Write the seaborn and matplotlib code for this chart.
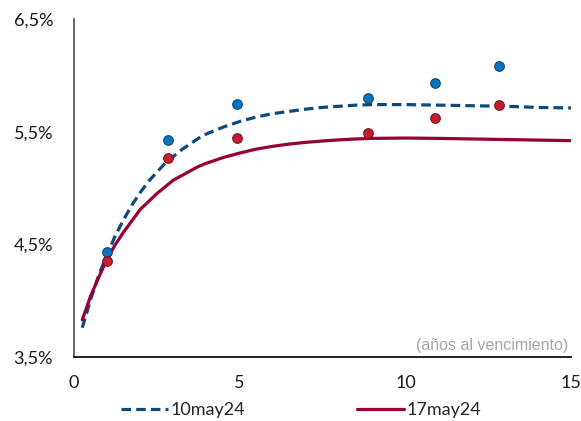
import numpy as np
import pandas as pd
import matplotlib
matplotlib.use("Agg")
import matplotlib.pyplot as plt
import seaborn as sns
from matplotlib.ticker import FuncFormatter

# fitted curves (years to maturity -> yield %)
curve_x = [0.25, 0.5, 0.75, 1.0, 1.25, 1.5, 1.75, 2.0, 2.25, 2.5, 2.75, 3.0, 3.25, 3.5,
           3.75, 4.0, 4.5, 5.0, 5.5, 6.0, 6.5, 7.0, 7.5, 8.0, 8.5, 9.0, 10.0, 11.0, 12.0,
           13.0, 14.0, 15.0]
curve_10may = [3.76, 4.01, 4.23, 4.41, 4.58, 4.72, 4.85, 4.96, 5.06, 5.14, 5.22, 5.28, 5.34, 5.39,
               5.44, 5.48, 5.54, 5.59, 5.63, 5.66, 5.68, 5.70, 5.715, 5.725, 5.735, 5.74, 5.74, 5.735,
               5.73, 5.725, 5.715, 5.71]
curve_17may = [3.83, 4.04, 4.21, 4.37, 4.50, 4.61, 4.71, 4.81, 4.88, 4.95, 5.01, 5.07, 5.11, 5.15,
               5.19, 5.22, 5.27, 5.31, 5.345, 5.37, 5.39, 5.405, 5.417, 5.427, 5.435, 5.44, 5.443, 5.44,
               5.435, 5.43, 5.425, 5.42]

# observed bond yields
obs_x = [1.0, 2.83, 4.91, 8.88, 10.88, 12.81]
obs_10may = [4.43, 5.43, 5.745, 5.80, 5.93, 6.08]
obs_17may = [4.35, 5.27, 5.44, 5.49, 5.62, 5.74]

labels = ["10may24", "17may24"]

blue_line = "#0B4A7A"
red_line = "#990033"
blue_dot = "#0A74BE"
red_dot = "#BF2130"

sns.set_style("white")
plt.rcParams["font.family"] = ["Lato", "DejaVu Sans"]

curves = pd.DataFrame({"x": curve_x * 2,
                       "y": curve_10may + curve_17may,
                       "serie": [labels[0]] * len(curve_x) + [labels[1]] * len(curve_x)})

fig = plt.figure(figsize=(5.81, 4.21), dpi=100)
ax = fig.add_axes([0.1274, 0.152, 0.8556, 0.803])

sns.lineplot(data=curves, x="x", y="y", hue="serie", style="serie",
             palette={labels[0]: blue_line, labels[1]: red_line},
             dashes={labels[0]: (3, 1.6), labels[1]: ""},
             linewidth=2.3, ax=ax, zorder=2)

sns.scatterplot(x=obs_x, y=obs_10may, color=blue_dot, edgecolor="#0B4A7A",
                linewidth=0.8, s=48, ax=ax, zorder=3, legend=False)
sns.scatterplot(x=obs_x, y=obs_17may, color=red_dot, edgecolor="#8A0A20",
                linewidth=0.8, s=48, ax=ax, zorder=3, legend=False)

ax.set_xlim(0, 15)
ax.set_ylim(3.5, 6.5)
ax.set_xticks([0, 5, 10, 15])
ax.set_yticks([3.5, 4.5, 5.5, 6.5])
ax.yaxis.set_major_formatter(FuncFormatter(lambda v, p: f"{v:.1f}%".replace(".", ",")))
ax.set_xlabel("")
ax.set_ylabel("")
ax.tick_params(axis="both", length=0, labelsize=13, colors="#1a1a1a")
ax.tick_params(axis="y", pad=15)
ax.tick_params(axis="x", pad=13)

for s in ["top", "right"]:
    ax.spines[s].set_visible(False)
ax.spines["left"].set_color("#595959")
ax.spines["left"].set_linewidth(1.3)
ax.spines["bottom"].set_color("#111111")
ax.spines["bottom"].set_linewidth(1.3)

ax.text(0.995, 0.035, "(años al vencimiento)", transform=ax.transAxes,
        ha="right", va="center", fontsize=11.5, color="#A6A6A6",
        family=["Liberation Sans", "DejaVu Sans"])

handles, lbls = ax.get_legend_handles_labels()
ax.legend(handles, lbls, loc="center", bbox_to_anchor=(0.518, 0.025),
          bbox_transform=fig.transFigure, ncol=2, frameon=False,
          fontsize=13, handlelength=2.6, handletextpad=0.15, columnspacing=6.2)

fig.savefig("out.png", dpi=100)
